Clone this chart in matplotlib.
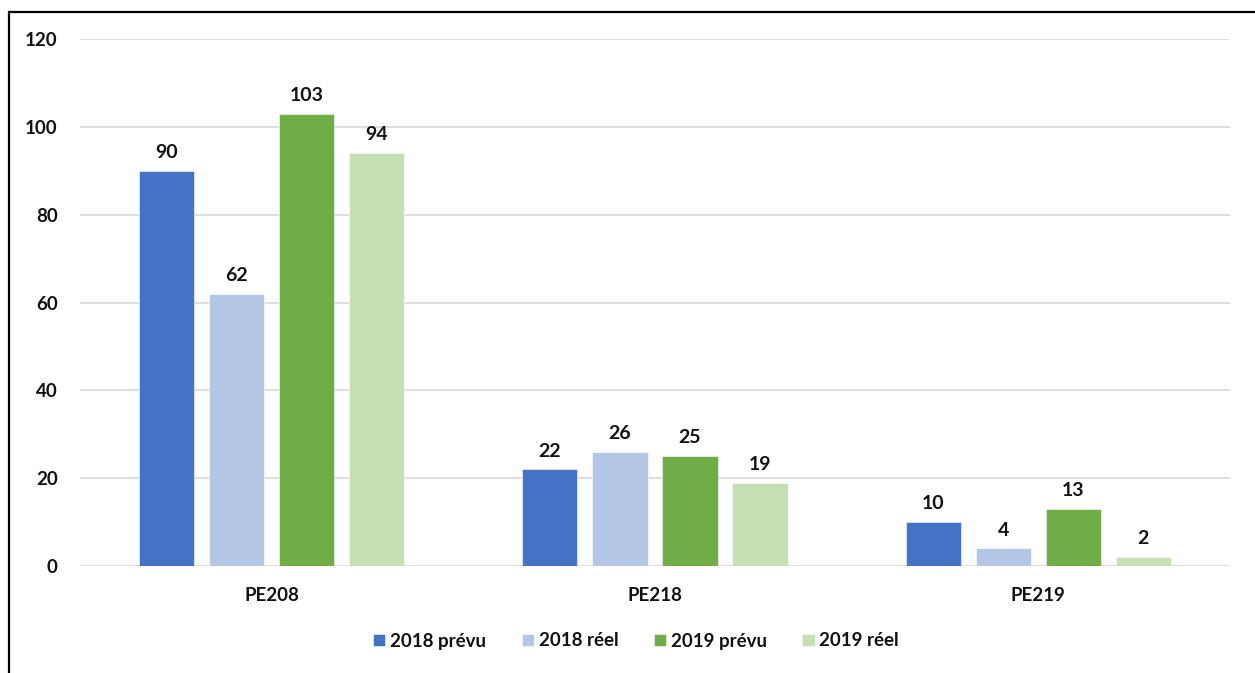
import numpy as np
import matplotlib
matplotlib.use("Agg")
import matplotlib.pyplot as plt
from matplotlib.patches import Rectangle

# chart data
categories = ["PE208", "PE218", "PE219"]
series_names = ["2018 prévu", "2018 réel", "2019 prévu", "2019 réel"]
prevu_2018 = [90, 22, 10]
reel_2018 = [62, 26, 4]
prevu_2019 = [103, 25, 13]
reel_2019 = [94, 19, 2]
y_ticks = [0, 20, 40, 60, 80, 100, 120]

colors = ["#4472C4", "#B4C7E7", "#70AD47", "#C5E0B4"]
text_color = '#111111'

plt.rcParams['font.family'] = ['Lato', 'DejaVu Sans']
plt.rcParams['font.weight'] = 'bold'

fig = plt.figure(figsize=(12.55, 6.73), dpi=100)
ax = fig.add_axes([0.0637, 0.159, 0.9163, 0.783])

x = np.arange(len(categories))
width = 0.144
pitch = 0.1827
all_series = [prevu_2018, reel_2018, prevu_2019, reel_2019]

for i, (name, vals) in enumerate(zip(series_names, all_series)):
    offset = (i - 1.5) * pitch
    bars = ax.bar(x + offset, vals, width, color=colors[i], label=name,
                  edgecolor='white', linewidth=0.4, zorder=3)
    for b, v in zip(bars, vals):
        ax.annotate(str(v), (b.get_x() + b.get_width() / 2, v),
                    xytext=(0, 7), textcoords='offset points',
                    ha='center', va='bottom', fontsize=14,
                    fontweight='bold', color=text_color)

ax.set_xlim(-0.5, 2.5)
ax.set_ylim(0, 120)
ax.set_yticks(y_ticks)
ax.set_xticks(x)
ax.set_xticklabels(categories)
ax.tick_params(axis='both', length=0, labelsize=13.5, labelcolor=text_color)
ax.tick_params(axis='y', pad=16)
ax.tick_params(axis='x', pad=15)
for lbl in ax.get_xticklabels() + ax.get_yticklabels():
    lbl.set_fontweight('bold')

ax.grid(axis='y', color='#d9d9d9', linewidth=1.2, zorder=0)
for s in ax.spines.values():
    s.set_visible(False)

leg = fig.legend(loc='center', bbox_to_anchor=(636 / 1255, 1 - 641 / 673), ncol=4,
                 frameon=False, handlelength=0.65, handleheight=0.65,
                 handletextpad=0.25, columnspacing=1.9,
                 prop={'weight': 'bold', 'size': 13.5})
for t in leg.get_texts():
    t.set_color(text_color)

# outer border of the original chart frame
fig.patches.append(Rectangle((9 / 1255, -0.1), 1.2, 1 - 12 / 673 + 0.1,
                             transform=fig.transFigure, fill=False,
                             edgecolor='black', linewidth=1.6))

fig.savefig("out.png", dpi=100)
